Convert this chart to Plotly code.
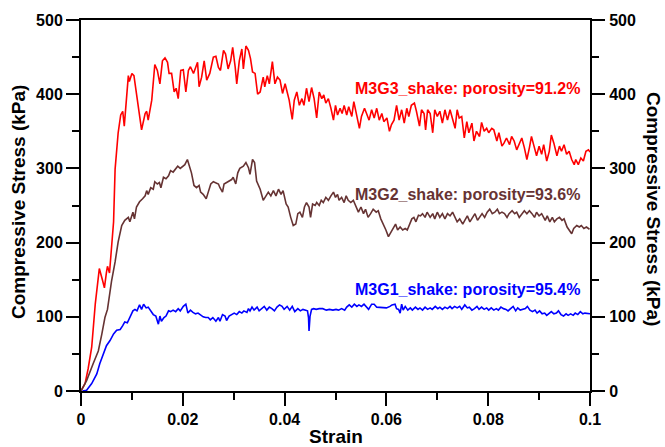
import plotly.graph_objects as go

# ---- data ----
red_strain = [0, 0.0008, 0.0014, 0.0021, 0.0028, 0.0033, 0.0036, 0.0042, 0.0046, 0.0050, 0.0052, 0.0056, 0.0059,
              0.0064, 0.0067, 0.0073, 0.0078, 0.0082, 0.0085, 0.0090, 0.0093, 0.0095, 0.0100, 0.0104, 0.0111,
              0.0119, 0.0126, 0.0129, 0.0132, 0.0139, 0.0145, 0.0150, 0.0155, 0.0160, 0.0165, 0.0170, 0.0173,
              0.0178, 0.0183, 0.0187, 0.0191, 0.0196, 0.0201, 0.0206, 0.0211, 0.0215, 0.0221, 0.0229, 0.0232,
              0.0237, 0.0242, 0.0247, 0.0253, 0.0260, 0.0265, 0.0270, 0.0274, 0.0280, 0.0284, 0.0289, 0.0294,
              0.0298, 0.0303, 0.0306, 0.0311, 0.0316, 0.0319, 0.0324, 0.0329, 0.0333, 0.0337, 0.0342, 0.0347,
              0.0352, 0.0358, 0.0361, 0.0366, 0.0370, 0.0376, 0.0381, 0.0386, 0.0391, 0.0396, 0.0401, 0.0405,
              0.0409, 0.0415, 0.0419, 0.0424, 0.0429, 0.0434, 0.0438, 0.0443, 0.0448, 0.0453, 0.0458, 0.0463,
              0.0468, 0.0473, 0.0477, 0.0481, 0.0486, 0.0491, 0.0496, 0.0500, 0.0504, 0.0509, 0.0513, 0.0517,
              0.0522, 0.0526, 0.0532, 0.0536, 0.0541, 0.0547, 0.0551, 0.0557, 0.0561, 0.0566, 0.0571, 0.0576,
              0.0581, 0.0586, 0.0591, 0.0595, 0.0601, 0.0606, 0.0610, 0.0615, 0.0620, 0.0625, 0.0630, 0.0635,
              0.0640, 0.0644, 0.0649, 0.0655, 0.0659, 0.0665, 0.0669, 0.0674, 0.0677, 0.0681, 0.0686, 0.0691,
              0.0695, 0.0700, 0.0705, 0.0710, 0.0715, 0.0720, 0.0725, 0.0730, 0.0735, 0.0739, 0.0743, 0.0748,
              0.0753, 0.0758, 0.0762, 0.0768, 0.0772, 0.0777, 0.0783, 0.0787, 0.0792, 0.0797, 0.0801, 0.0807,
              0.0811, 0.0817, 0.0821, 0.0827, 0.0831, 0.0836, 0.0842, 0.0846, 0.0851, 0.0856, 0.0861, 0.0866,
              0.0871, 0.0876, 0.0881, 0.0885, 0.0890, 0.0895, 0.0900, 0.0905, 0.0909, 0.0915, 0.0920, 0.0924,
              0.0929, 0.0935, 0.0940, 0.0944, 0.0949, 0.0954, 0.0959, 0.0964, 0.0969, 0.0972, 0.0977, 0.0982,
              0.0987, 0.0992, 0.0997, 0.1000]
red_stress = [0, 10, 30, 59, 117, 150, 165, 150, 139, 160, 168, 159, 184,
              228, 299, 348, 372, 377, 357, 405, 425, 417, 428, 425, 392,
              352, 374, 377, 365, 392, 440, 432, 414, 445, 449, 443, 428,
              428, 403, 408, 394, 432, 433, 403, 432, 437, 428, 443, 410,
              423, 445, 419, 428, 450, 451, 436, 432, 459, 454, 434, 445,
              463, 436, 414, 445, 461, 434, 465, 459, 448, 430, 428, 400,
              403, 423, 410, 425, 414, 444, 414, 423, 419, 401, 414, 403,
              392, 366, 392, 403, 385, 394, 385, 408, 390, 409, 394, 368,
              403, 394, 399, 388, 394, 381, 365, 385, 372, 381, 374, 385,
              372, 383, 370, 390, 374, 354, 370, 381, 374, 365, 379, 368,
              381, 365, 374, 363, 368, 350, 359, 365, 385, 365, 379, 361,
              381, 370, 385, 388, 377, 357, 379, 374, 352, 379, 374, 348,
              379, 370, 377, 361, 379, 365, 379, 365, 354, 379, 368, 370,
              341, 363, 348, 361, 337, 350, 343, 362, 350, 354, 348, 354,
              352, 337, 348, 330, 334, 341, 332, 343, 337, 325, 334, 341,
              328, 312, 328, 343, 330, 317, 330, 319, 332, 310, 323, 345,
              334, 317, 330, 323, 332, 319, 323, 312, 305, 312, 305, 314,
              310, 323, 325, 322]

brown_strain = [0, 0.0011, 0.0024, 0.0034, 0.0041, 0.0047, 0.0052, 0.0056, 0.0060, 0.0067, 0.0073, 0.0080,
                0.0086, 0.0093, 0.0096, 0.0102, 0.0105, 0.0109, 0.0115, 0.0121, 0.0126, 0.0129, 0.0132, 0.0137,
                0.0142, 0.0145, 0.0150, 0.0154, 0.0157, 0.0162, 0.0167, 0.0172, 0.0176, 0.0181, 0.0186, 0.0190,
                0.0195, 0.0200, 0.0204, 0.0209, 0.0213, 0.0217, 0.0222, 0.0227, 0.0232, 0.0235, 0.0240, 0.0246,
                0.0250, 0.0255, 0.0260, 0.0265, 0.0270, 0.0273, 0.0278, 0.0281, 0.0286, 0.0291, 0.0296, 0.0299,
                0.0304, 0.0308, 0.0312, 0.0319, 0.0324, 0.0329, 0.0332, 0.0337, 0.0341, 0.0345, 0.0352, 0.0358,
                0.0363, 0.0368, 0.0373, 0.0378, 0.0383, 0.0388, 0.0393, 0.0397, 0.0403, 0.0407, 0.0412, 0.0417,
                0.0422, 0.0426, 0.0430, 0.0435, 0.0439, 0.0443, 0.0448, 0.0451, 0.0455, 0.0460, 0.0463, 0.0468,
                0.0472, 0.0476, 0.0481, 0.0486, 0.0491, 0.0496, 0.0500, 0.0504, 0.0507, 0.0512, 0.0517, 0.0521,
                0.0525, 0.0530, 0.0535, 0.0540, 0.0545, 0.0550, 0.0555, 0.0559, 0.0564, 0.0569, 0.0574, 0.0580,
                0.0584, 0.0589, 0.0594, 0.0599, 0.0604, 0.0609, 0.0614, 0.0618, 0.0622, 0.0627, 0.0632, 0.0637,
                0.0641, 0.0645, 0.0650, 0.0654, 0.0658, 0.0663, 0.0667, 0.0671, 0.0676, 0.0680, 0.0686, 0.0691,
                0.0695, 0.0700, 0.0705, 0.0710, 0.0715, 0.0720, 0.0725, 0.0730, 0.0735, 0.0739, 0.0744, 0.0750,
                0.0754, 0.0759, 0.0764, 0.0769, 0.0774, 0.0779, 0.0784, 0.0788, 0.0793, 0.0798, 0.0803, 0.0808,
                0.0813, 0.0818, 0.0822, 0.0827, 0.0832, 0.0837, 0.0841, 0.0847, 0.0852, 0.0856, 0.0861, 0.0866,
                0.0871, 0.0876, 0.0881, 0.0886, 0.0891, 0.0895, 0.0900, 0.0905, 0.0912, 0.0916, 0.0921, 0.0926,
                0.0930, 0.0935, 0.0940, 0.0945, 0.0949, 0.0955, 0.0959, 0.0964, 0.0968, 0.0974, 0.0979, 0.0983,
                0.0988, 0.0993, 0.0999]
brown_stress = [0, 14, 37, 54, 77, 99, 110, 130, 148, 174, 201, 223,
                230, 234, 228, 241, 232, 248, 255, 259, 263, 270, 265, 274,
                272, 282, 279, 281, 274, 288, 286, 290, 297, 295, 299, 303,
                300, 303, 305, 312, 303, 294, 277, 274, 277, 268, 265, 259,
                268, 279, 282, 281, 279, 274, 268, 279, 281, 283, 285, 288,
                279, 294, 300, 303, 308, 301, 292, 312, 308, 283, 272, 257,
                263, 268, 263, 270, 263, 272, 265, 270, 252, 248, 234, 223,
                225, 239, 241, 234, 248, 254, 248, 234, 252, 250, 254, 250,
                257, 254, 261, 257, 263, 268, 261, 265, 257, 261, 254, 263,
                257, 254, 257, 248, 241, 248, 239, 245, 234, 239, 245, 241,
                243, 232, 225, 217, 208, 214, 221, 225, 217, 221, 217, 219,
                217, 223, 232, 234, 228, 237, 236, 239, 234, 241, 234, 239,
                232, 241, 234, 239, 232, 239, 236, 241, 234, 228, 232, 225,
                230, 236, 228, 234, 239, 230, 236, 239, 234, 241, 245, 239,
                241, 245, 239, 241, 239, 234, 239, 243, 239, 241, 234, 239,
                243, 239, 243, 239, 234, 241, 236, 239, 230, 236, 228, 234,
                228, 232, 234, 230, 232, 221, 217, 212, 219, 223, 221, 223,
                219, 221, 218]

blue_strain = [0.0003, 0.0011, 0.0021, 0.0031, 0.0037, 0.0044, 0.0050, 0.0057, 0.0064, 0.0070, 0.0077, 0.0082,
               0.0086, 0.0091, 0.0096, 0.0102, 0.0106, 0.0110, 0.0115, 0.0119, 0.0123, 0.0128, 0.0132, 0.0137,
               0.0142, 0.0147, 0.0152, 0.0155, 0.0158, 0.0163, 0.0167, 0.0172, 0.0176, 0.0181, 0.0186, 0.0191,
               0.0195, 0.0201, 0.0206, 0.0210, 0.0215, 0.0220, 0.0225, 0.0230, 0.0234, 0.0240, 0.0245, 0.0250,
               0.0254, 0.0259, 0.0265, 0.0270, 0.0273, 0.0278, 0.0283, 0.0286, 0.0291, 0.0296, 0.0301, 0.0306,
               0.0311, 0.0316, 0.0320, 0.0326, 0.0329, 0.0332, 0.0336, 0.0340, 0.0346, 0.0350, 0.0355, 0.0360,
               0.0365, 0.0370, 0.0375, 0.0380, 0.0385, 0.0390, 0.0395, 0.0399, 0.0405, 0.0410, 0.0415, 0.0420,
               0.0426, 0.0431, 0.0436, 0.0441, 0.0445, 0.0447, 0.0448, 0.0450, 0.0453, 0.0457, 0.0462, 0.0468,
               0.0475, 0.0482, 0.0488, 0.0495, 0.0501, 0.0506, 0.0512, 0.0518, 0.0522, 0.0527, 0.0532, 0.0537,
               0.0542, 0.0546, 0.0551, 0.0556, 0.0561, 0.0565, 0.0571, 0.0576, 0.0581, 0.0587, 0.0594, 0.0600,
               0.0607, 0.0611, 0.0617, 0.0620, 0.0624, 0.0627, 0.0630, 0.0633, 0.0637, 0.0642, 0.0647, 0.0651,
               0.0657, 0.0662, 0.0666, 0.0671, 0.0676, 0.0681, 0.0686, 0.0690, 0.0696, 0.0701, 0.0705, 0.0710,
               0.0715, 0.0720, 0.0725, 0.0729, 0.0734, 0.0739, 0.0744, 0.0748, 0.0754, 0.0759, 0.0763, 0.0768,
               0.0773, 0.0778, 0.0782, 0.0787, 0.0792, 0.0797, 0.0801, 0.0806, 0.0811, 0.0816, 0.0820, 0.0825,
               0.0830, 0.0835, 0.0839, 0.0844, 0.0849, 0.0854, 0.0858, 0.0863, 0.0868, 0.0873, 0.0877, 0.0882,
               0.0887, 0.0892, 0.0896, 0.0901, 0.0906, 0.0911, 0.0915, 0.0920, 0.0924, 0.0929, 0.0934, 0.0938,
               0.0943, 0.0948, 0.0953, 0.0957, 0.0962, 0.0967, 0.0971, 0.0976, 0.0981, 0.0986, 0.0990, 0.1000]
blue_stress = [0, 1, 10, 23, 37, 50, 61, 68, 77, 82, 83, 88,
               93, 92, 99, 108, 110, 108, 116, 110, 117, 112, 113, 108,
               103, 101, 90, 101, 94, 99, 101, 108, 107, 109, 107, 111,
               108, 114, 117, 105, 109, 106, 104, 105, 103, 100, 99, 99,
               96, 99, 94, 99, 94, 103, 101, 95, 101, 103, 105, 103,
               107, 105, 108, 106, 111, 108, 113, 109, 113, 108, 111, 114,
               109, 113, 111, 108, 113, 116, 114, 110, 114, 109, 114, 107,
               111, 108, 110, 109, 108, 99, 81, 101, 110, 111, 110, 111,
               111, 109, 110, 109, 110, 109, 111, 109, 113, 116, 113, 117,
               114, 116, 114, 117, 113, 110, 117, 117, 113, 113, 113, 112,
               114, 116, 117, 111, 110, 105, 117, 109, 114, 109, 112, 109,
               113, 110, 112, 109, 113, 110, 112, 110, 114, 111, 113, 110,
               113, 111, 114, 111, 114, 112, 114, 110, 116, 112, 113, 109,
               111, 114, 110, 113, 110, 112, 109, 112, 109, 111, 109, 113,
               111, 110, 108, 111, 114, 108, 112, 109, 110, 111, 114, 109,
               107, 109, 105, 108, 104, 105, 102, 105, 107, 104, 105, 108,
               103, 101, 104, 102, 104, 102, 105, 103, 107, 104, 105, 104]

x_tickvals = [0, 0.02, 0.04, 0.06, 0.08, 0.1]
x_ticktext = ["0", "0.02", "0.04", "0.06", "0.08", "0.1"]
y_tickvals = [0, 100, 200, 300, 400, 500]
y_ticktext = ["0", "100", "200", "300", "400", "500"]

labels = ["M3G3_shake: porosity=91.2%", "M3G2_shake: porosity=93.6%", "M3G1_shake: porosity=95.4%"]
colors = ["#FF0000", "#663333", "#0000FF"]

# ---- layout geometry ----
W, H = 665, 447
L, R, T, B = 81, 75, 16, 56
PW, PH = W - L - R, H - T - B


def px_x(p):
    return (p - L) / PW


def px_y(p):
    return (H - B - p) / PH


FONT = "Arial, 'Liberation Sans', sans-serif"

fig = go.Figure()
for xs, ys, c, name in [(red_strain, red_stress, colors[0], labels[0]),
                        (brown_strain, brown_stress, colors[1], labels[1]),
                        (blue_strain, blue_stress, colors[2], labels[2])]:
    fig.add_trace(go.Scatter(x=xs, y=ys, mode="lines", name=name,
                             line=dict(color=c, width=1.6), showlegend=False))
# empty trace to activate the right axis
fig.add_trace(go.Scatter(x=[], y=[], yaxis="y2", showlegend=False))

axis_common = dict(showline=True, linewidth=2, linecolor="black", ticks="outside",
                   ticklen=13, tickwidth=2, tickcolor="black", showgrid=False, zeroline=False,
                   tickfont=dict(family=FONT, size=16, color="black", weight="bold"))

fig.update_layout(
    width=W, height=H,
    margin=dict(l=L, r=R, t=T, b=B, pad=0),
    paper_bgcolor="white", plot_bgcolor="white",
    xaxis=dict(range=[0, 0.1], tickmode="array", tickvals=x_tickvals, ticktext=x_ticktext,
               mirror=True,
               minor=dict(tickmode="linear", tick0=0, dtick=0.01, ticks="outside", ticklen=7,
                          tickwidth=2, tickcolor="black"),
               ticklabelstandoff=0,
               **axis_common),
    yaxis=dict(range=[0, 500], tickmode="array", tickvals=y_tickvals, ticktext=y_ticktext,
               minor=dict(tickmode="linear", tick0=0, dtick=50, ticks="outside", ticklen=7,
                          tickwidth=2, tickcolor="black"),
               ticklabelstandoff=0,
               **axis_common),
    yaxis2=dict(range=[0, 500], overlaying="y", side="right", tickmode="array",
                tickvals=y_tickvals, ticktext=y_ticktext,
                minor=dict(tickmode="linear", tick0=0, dtick=50, ticks="outside", ticklen=7,
                           tickwidth=2, tickcolor="black"),
                ticklabelstandoff=1,
                **axis_common),
)

title_font = dict(family=FONT, size=19, color="black", weight="bold")
fig.add_annotation(text="Compressive Stress (kPa)", xref="paper", yref="paper",
                   x=px_x(18), y=px_y(200), textangle=-90, showarrow=False,
                   xanchor="center", yanchor="middle", font=title_font)
fig.add_annotation(text="Compressive Stress (kPa)", xref="paper", yref="paper",
                   x=px_x(653), y=px_y(207), textangle=90, showarrow=False,
                   xanchor="center", yanchor="middle", font=title_font)
fig.add_annotation(text="Strain", xref="paper", yref="paper",
                   x=px_x(336), y=px_y(437), showarrow=False,
                   xanchor="center", yanchor="middle", font=title_font)

for txt, c, yc in zip(labels, colors, [85, 192, 288]):
    fig.add_annotation(text=txt, xref="paper", yref="paper", x=px_x(582), y=px_y(yc),
                       showarrow=False, xanchor="right", yanchor="middle",
                       font=dict(family=FONT, size=16, color=c, weight="bold"))

fig.write_html("out.html")
